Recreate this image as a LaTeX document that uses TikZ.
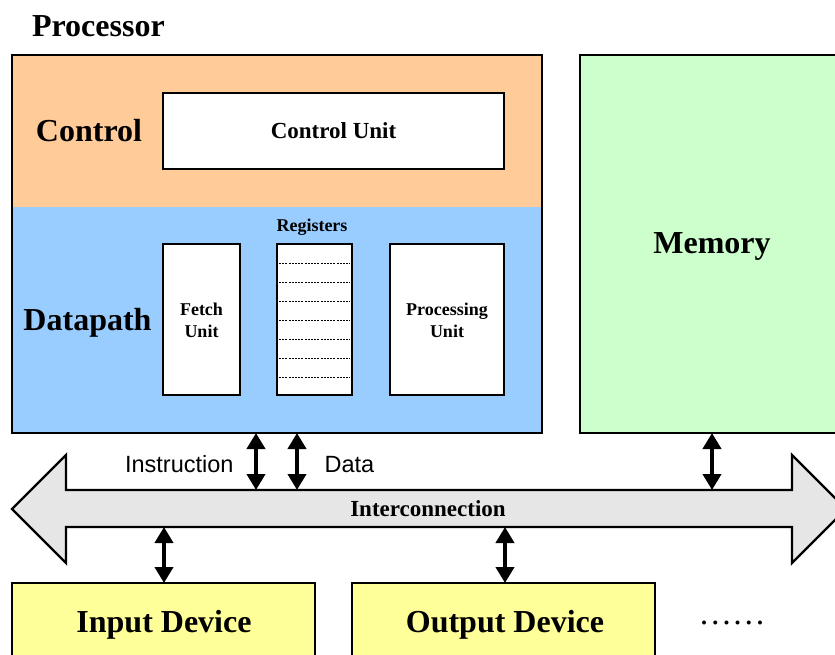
\documentclass[tikz,border=0pt]{standalone}
\usepackage{fontspec}
\setmainfont{Liberation Serif}
\newfontfamily\labelsans{Liberation Sans}
\usetikzlibrary{arrows.meta}

\definecolor{ctrlorange}{HTML}{FFCC99}
\definecolor{pathblue}{HTML}{99CCFF}
\definecolor{memgreen}{HTML}{CCFFCC}
\definecolor{devyellow}{HTML}{FFFF99}
\definecolor{busgray}{HTML}{E6E6E6}

\begin{document}
\begin{tikzpicture}[x=1pt,y=-1pt,
  bigtext/.style={font=\bfseries\fontsize{32}{36}\selectfont},
  midtext/.style={font=\bfseries\fontsize{23}{27}\selectfont},
  smalltext/.style={font=\bfseries\fontsize{18}{21.7}\selectfont, align=center},
  sanslabel/.style={font=\labelsans\fontsize{23.5}{27}\selectfont},
  region/.style={inner sep=0pt, outer sep=0pt, anchor=north west},
  unitbox/.style={draw, line width=2.6pt, fill=white, inner sep=0pt, outer sep=0pt, anchor=north west},
  link/.style={line width=4.2pt,
    {Triangle[length=16pt,width=18pt]}-{Triangle[length=16pt,width=18pt]}},
  regline/.style={dashed, line width=0.7pt, dash pattern=on 2pt off 1.2pt}
]
\useasboundingbox (0,0) rectangle (835,655);
\clip (0,0) rectangle (835,655);

% processor: control and datapath bands
\node[region, fill=ctrlorange, minimum width=530pt, minimum height=152pt] (ctrl) at (12,55) {};
\node[region, fill=pathblue, minimum width=530pt, minimum height=226pt] (dpath) at (12,207) {};
\node[region, draw, line width=2.4pt, minimum width=530pt, minimum height=378pt] (proc) at (12,55) {};
\node[bigtext, anchor=base west] (proclabel) at (28.5,36.5) {Processor};

\node[bigtext, anchor=base] (ctrllabel) at (89,141.5) {Control};
\node[unitbox, minimum width=341pt, minimum height=76pt] (cu) at (163,93) {};
\node[midtext] (culabel) at (cu.center) {Control Unit};

\node[bigtext, anchor=base] (dplabel) at (87.5,330) {Datapath};

% fetch unit
\node[unitbox, minimum width=77pt, minimum height=151pt] (fetch) at (163,244) {};
\node[smalltext] (fetchlabel) at (201.5,320) {Fetch\\Unit};

% register file
\node[unitbox, minimum width=75pt, minimum height=151pt] (reg) at (277,244) {};
\foreach \k in {1,...,7}
  \draw[regline] (279,244+19*\k) -- (350,244+19*\k);
\node[smalltext, anchor=base] (reglabel) at (312,231.5) {Registers};

% processing unit
\node[unitbox, minimum width=114pt, minimum height=151pt] (pu) at (390,244) {};
\node[smalltext] (pulabel) at (447,320) {Processing\\Unit};

% memory
\node[region, draw, line width=2.4pt, fill=memgreen, minimum width=290pt, minimum height=378pt] (mem) at (580,55) {};
\node[bigtext, anchor=base] (memlabel) at (712,253) {Memory};

% interconnection bus
\draw[line width=2.4pt, fill=busgray, line join=miter]
  (12,509) -- (66,455) -- (66,490) -- (792,490) -- (792,455) -- (846,509)
  -- (792,563) -- (792,527) -- (66,527) -- (66,563) -- cycle;
\node[midtext] (buslabel) at (428,509) {Interconnection};

% devices
\node[region, draw, line width=2.4pt, fill=devyellow, minimum width=303pt, minimum height=100pt] (indev) at (12,583) {};
\node[bigtext, anchor=base] (inlabel) at (164,632) {Input Device};
\node[region, draw, line width=2.4pt, fill=devyellow, minimum width=303pt, minimum height=100pt] (outdev) at (352,583) {};
\node[bigtext, anchor=base] (outlabel) at (505,632) {Output Device};
\node[font=\fontsize{33.5}{36}\selectfont, anchor=base] (more) at (732,624) {……};

% bus attachment points
\coordinate (busI) at (256,490);
\coordinate (busD) at (297,490);
\coordinate (busM) at (712,490);
\coordinate (busIn) at (164,527);
\coordinate (busOut) at (505,527);

\draw[link] (proc.south -| busI) -- (busI);
\draw[link] (proc.south -| busD) -- (busD);
\draw[link] (mem.south -| busM) -- (busM);
\draw[link] (busIn) -- (indev.north -| busIn);
\draw[link] (busOut) -- (outdev.north -| busOut);

\node[sanslabel, anchor=base east] (instrlabel) at (237,472.5) {Instruction};
\node[sanslabel, anchor=base west] (datalabel) at (321,472.5) {Data};
\end{tikzpicture}
\end{document}
